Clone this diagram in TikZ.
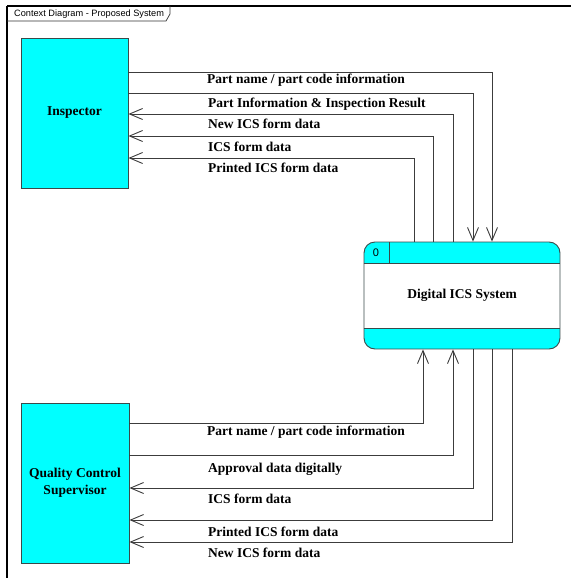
\documentclass[tikz,border=0pt]{standalone}
\usepackage{fontspec}
\setmainfont{Liberation Serif}
\newfontfamily\tabfont{Liberation Sans}
\usetikzlibrary{arrows.meta}

\definecolor{entityfill}{HTML}{00FFFF}
\definecolor{entityline}{HTML}{3A4A4A}
\definecolor{flowline}{HTML}{3C3C3C}

\tikzset{
  entity/.style={draw=entityline, line width=0.9pt, fill=entityfill, inner sep=0pt,
    align=center, font=\fontsize{13.5}{17}\selectfont\bfseries},
  flow/.style={draw=flowline, line width=0.9pt},
  flowtip/.style={flow, -{Straight Barb[length=13pt, width=11pt, line width=0.9pt]}},
  flowlabel/.style={anchor=base west, inner sep=0pt, font=\fontsize{13.5}{16}\selectfont\bfseries}
}

\begin{document}
\begin{tikzpicture}[x=1pt, y=-1pt]
  \useasboundingbox (0,0) rectangle (571,578);
  \fill[white] (0,0) rectangle (571,578);

  % diagram frame and its name tab
  \draw[line width=2pt, black] (7,6) -- (571,6);
  \draw[line width=2pt, black] (7,6) -- (7,578);
  \draw[line width=0.7pt, black!80] (7,21) -- (166,21) -- (170,14) -- (170,6);
  \node[anchor=west, inner sep=0pt, font=\tabfont\fontsize{9.2}{11}\selectfont] (tab) at (14,14)
    {Context Diagram - Proposed System};

  % external entities
  \node[entity, minimum width=107pt, minimum height=150pt] (insp) at (74.5,113) {Inspector};
  \node[entity, minimum width=108pt, minimum height=160pt] (qcs) at (75,483)
    {Quality Control\\Supervisor};

  % process: Digital ICS System
  \begin{scope}
    \clip[rounded corners=11pt] (364,242) rectangle (560,349);
    \fill[entityfill] (364,242) rectangle (560,263);
    \fill[entityfill] (364,328) rectangle (560,349);
  \end{scope}
  \node[draw=entityline, line width=0.9pt, rounded corners=11pt, minimum width=196pt,
        minimum height=107pt, inner sep=0pt, font=\fontsize{13.5}{16}\selectfont\bfseries]
        (sys) at (462,295.5) {Digital ICS System};
  \draw[entityline, line width=0.9pt] (sys.west |- 0,263) -- (sys.east |- 0,263);
  \draw[entityline, line width=0.9pt] (sys.west |- 0,328) -- (sys.east |- 0,328);
  \draw[entityline, line width=0.9pt] (389,242) -- (389,263);
  \node[inner sep=0pt, font=\tabfont\fontsize{11}{13}\selectfont] (sysid) at (376,253) {0};

  % flows between Inspector and the system
  \draw[flowtip] (insp.east |- 0,72) -| (sys.north -| 492,0);
  \draw[flowtip] (insp.east |- 0,93) -| (sys.north -| 473,0);
  \draw[flowtip] (sys.north -| 453,0) |- (insp.east |- 0,114);
  \draw[flowtip] (sys.north -| 433,0) |- (insp.east |- 0,136);
  \draw[flowtip] (sys.north -| 414,0) |- (insp.east |- 0,158);

  \node[flowlabel] (l1) at (207,83) {Part name / part code information};
  \node[flowlabel] (l2) at (208,107) {Part Information \& Inspection Result};
  \node[flowlabel] (l3) at (208,128) {New ICS form data};
  \node[flowlabel] (l4) at (208,151) {ICS form data};
  \node[flowlabel] (l5) at (208,172) {Printed ICS form data};

  % flows between Quality Control Supervisor and the system
  \draw[flowtip] (qcs.east |- 0,423) -| (sys.south -| 423,0);
  \draw[flowtip] (qcs.east |- 0,455) -| (sys.south -| 453,0);
  \draw[flowtip] (sys.south -| 473,0) |- (qcs.east |- 0,488);
  \draw[flowtip] (sys.south -| 492,0) |- (qcs.east |- 0,520);
  \draw[flowtip] (sys.south -| 512,0) |- (qcs.east |- 0,542);

  \node[flowlabel] (m1) at (207,435) {Part name / part code information};
  \node[flowlabel] (m2) at (208,472) {Approval data digitally};
  \node[flowlabel] (m3) at (208,503) {ICS form data};
  \node[flowlabel] (m4) at (208,536) {Printed ICS form data};
  \node[flowlabel] (m5) at (208,557) {New ICS form data};
\end{tikzpicture}
\end{document}
